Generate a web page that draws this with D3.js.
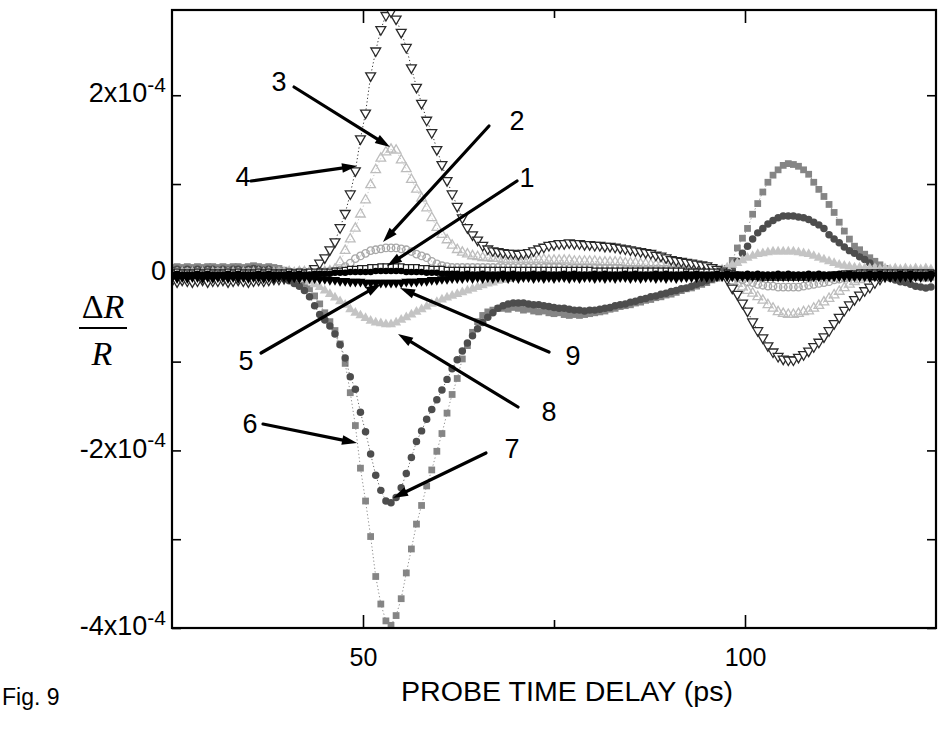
<!DOCTYPE html>
<html>
<head>
<meta charset="utf-8">
<script src="https://cdn.jsdelivr.net/npm/d3@7"></script>
<style>
  body { margin: 0; background: #fff; }
  svg { display: block; }
  .sans { font-family: "Liberation Sans", Arial, sans-serif; }
  .serif { font-family: "Liberation Serif", "Times New Roman", serif; }
</style>
</head>
<body>
<svg id="chart" width="943" height="732"></svg>
<script>
// Probe delay grid (ps): one sample every 2/3 ps from 25 ps
const delay = d3.range(150).map(i => 25 + i * 2 / 3);

// dR/R traces, in units of 1e-4, one value per delay sample
const s1 = [
  0.00,0.01,0.00, 0.00,0.00,0.01, 0.00,0.01,0.00, 0.00,0.00,0.01, 0.00,0.01,0.00,
  0.00,0.00,0.01, 0.00,0.01,0.00, 0.00,0.00,0.01, 0.00,0.01,0.00, 0.01,0.01,0.01,
  0.01,0.01,0.02, 0.02,0.03,0.04, 0.04,0.05,0.05, 0.06,0.06,0.07, 0.07,0.07,0.07,
  0.07,0.06,0.06, 0.06,0.05,0.05, 0.04,0.04,0.04, 0.03,0.03,0.03, 0.03,0.03,0.03,
  0.03,0.03,0.03, 0.03,0.03,0.03, 0.03,0.03,0.03, 0.03,0.03,0.03, 0.03,0.03,0.03,
  0.03,0.03,0.03, 0.03,0.03,0.03, 0.03,0.03,0.02, 0.02,0.02,0.02, 0.02,0.02,0.02,
  0.02,0.02,0.02, 0.02,0.02,0.02, 0.02,0.02,0.02, 0.02,0.02,0.01, 0.01,0.01,0.01,
  0.01,0.01,0.01, 0.00,0.00,-0.01, -0.02,-0.03,-0.03, -0.04,-0.04,-0.05, -0.05,-0.05,-0.05,
  -0.05,-0.05,-0.05, -0.05,-0.05,-0.05, -0.04,-0.04,-0.03, -0.03,-0.02,-0.02, -0.01,-0.01,-0.01,
  0.00,0.00,0.00, 0.00,0.00,0.00, 0.00,0.00,0.00, 0.00,0.00,0.00, 0.00,0.00,0.00
];
const s2 = [
  0.00,0.01,0.00, 0.01,0.00,0.01, 0.00,0.01,0.00, 0.01,0.00,0.01, 0.00,0.01,0.00,
  0.01,0.00,0.01, 0.00,0.01,0.00, 0.01,0.00,0.01, 0.00,0.01,0.01, 0.00,0.01,0.01,
  0.01,0.02,0.02, 0.03,0.07,0.11, 0.16,0.19,0.22, 0.25,0.26,0.27, 0.28,0.28,0.28,
  0.27,0.26,0.24, 0.21,0.19,0.17, 0.13,0.10,0.08, 0.07,0.06,0.06, 0.06,0.06,0.06,
  0.06,0.06,0.06, 0.06,0.06,0.06, 0.06,0.06,0.06, 0.06,0.06,0.06, 0.06,0.06,0.06,
  0.06,0.06,0.05, 0.05,0.05,0.05, 0.05,0.05,0.05, 0.05,0.05,0.05, 0.05,0.05,0.04,
  0.04,0.04,0.04, 0.04,0.04,0.04, 0.04,0.04,0.03, 0.03,0.03,0.03, 0.03,0.03,0.03,
  0.03,0.03,0.02, 0.01,-0.02,-0.04, -0.06,-0.08,-0.10, -0.11,-0.13,-0.14, -0.15,-0.15,-0.16,
  -0.16,-0.16,-0.16, -0.16,-0.15,-0.14, -0.13,-0.12,-0.11, -0.10,-0.08,-0.07, -0.06,-0.05,-0.04,
  -0.03,-0.02,-0.01, -0.01,0.00,0.00, 0.00,0.00,0.00, 0.00,0.00,0.00, 0.00,0.00,0.00
];
const s3 = [
  0.00,-0.01,0.00, -0.01,0.00,-0.01, 0.00,-0.01,0.00, -0.01,0.00,-0.01, 0.00,-0.01,0.00,
  -0.01,0.00,0.00, -0.01,0.00,0.00, 0.00,0.00,0.01, 0.00,0.01,0.01, 0.01,0.01,0.02,
  0.01,0.02,0.04, 0.12,0.25,0.38, 0.50,0.66,0.82, 0.99,1.16,1.29, 1.36,1.39,1.38,
  1.27,1.17,1.05, 0.94,0.84,0.73, 0.62,0.51,0.43, 0.37,0.31,0.26, 0.23,0.21,0.19,
  0.18,0.17,0.17, 0.16,0.16,0.15, 0.15,0.15,0.15, 0.15,0.15,0.15, 0.15,0.15,0.14,
  0.14,0.14,0.14, 0.14,0.13,0.13, 0.13,0.13,0.13, 0.12,0.12,0.12, 0.12,0.12,0.11,
  0.11,0.11,0.10, 0.10,0.09,0.09, 0.09,0.08,0.08, 0.07,0.07,0.06, 0.06,0.05,0.05,
  0.04,0.03,0.02, 0.00,-0.04,-0.09, -0.12,-0.16,-0.20, -0.23,-0.27,-0.31, -0.36,-0.40,-0.44,
  -0.46,-0.47,-0.47, -0.46,-0.44,-0.43, -0.40,-0.37,-0.33, -0.29,-0.25,-0.21, -0.17,-0.13,-0.10,
  -0.08,-0.06,-0.05, -0.03,-0.01,0.00, 0.00,0.00,0.01, 0.00,0.00,0.01, 0.00,0.01,0.00
];
const s4 = [
  -0.09,-0.10,-0.08, -0.09,-0.10,-0.09, -0.08,-0.10,-0.09, -0.09,-0.08,-0.10, -0.09,-0.08,-0.09,
  -0.10,-0.09,-0.08, -0.09,-0.08,-0.07, -0.07,-0.06,-0.05, -0.04,-0.03,-0.01, 0.00,0.05,0.11,
  0.17,0.26,0.35, 0.51,0.67,0.89, 1.15,1.51,1.80, 2.22,2.50,2.74, 2.90,2.94,2.86,
  2.71,2.54,2.31, 2.09,1.91,1.72, 1.58,1.39,1.22, 1.04,0.89,0.75, 0.62,0.51,0.43,
  0.37,0.31,0.27, 0.25,0.24,0.23, 0.22,0.22,0.21, 0.22,0.23,0.25, 0.27,0.29,0.31,
  0.32,0.33,0.33, 0.34,0.33,0.33, 0.32,0.32,0.31, 0.31,0.30,0.30, 0.29,0.28,0.27,
  0.26,0.25,0.24, 0.23,0.22,0.20, 0.19,0.17,0.15, 0.14,0.13,0.12, 0.11,0.10,0.09,
  0.08,0.06,0.04, 0.02,-0.07,-0.17, -0.24,-0.34,-0.43, -0.55,-0.65,-0.73, -0.82,-0.89,-0.94,
  -0.97,-0.98,-0.98, -0.95,-0.92,-0.88, -0.83,-0.78,-0.72, -0.65,-0.57,-0.50, -0.42,-0.36,-0.30,
  -0.25,-0.20,-0.16, -0.11,-0.07,-0.04, -0.02,-0.02,-0.01, -0.02,-0.01,-0.02, -0.01,-0.02,-0.01
];
const s5 = [
  -0.02,-0.01,-0.02, -0.02,-0.02,-0.01, -0.02,-0.01,-0.02, -0.02,-0.02,-0.01, -0.02,-0.01,-0.02,
  -0.02,-0.02,-0.01, -0.02,-0.01,-0.02, -0.02,-0.02,-0.01, -0.02,-0.01,-0.02, -0.02,-0.01,-0.01,
  -0.01,-0.01,0.00, 0.00,0.00,0.01, 0.01,0.01,0.01, 0.01,0.02,0.02, 0.02,0.02,0.02,
  0.02,0.01,0.01, 0.01,0.01,0.00, 0.00,0.00,-0.01, -0.01,-0.01,-0.01, -0.02,-0.01,-0.02,
  -0.02,-0.01,-0.02, -0.02,-0.02,-0.01, -0.02,-0.01,-0.02, -0.02,-0.02,-0.01, -0.02,-0.01,-0.02,
  -0.02,-0.02,-0.01, -0.02,-0.01,-0.02, -0.02,-0.02,-0.01, -0.02,-0.01,-0.02, -0.02,-0.02,-0.01,
  -0.02,-0.01,-0.02, -0.02,-0.02,-0.01, -0.02,-0.01,-0.02, -0.02,-0.02,-0.01, -0.02,-0.01,-0.02,
  -0.02,-0.02,-0.01, -0.02,-0.01,-0.02, -0.02,-0.02,-0.01, -0.02,-0.01,-0.02, -0.02,-0.02,-0.01,
  -0.02,-0.01,-0.02, -0.02,-0.02,-0.01, -0.02,-0.01,-0.02, -0.02,-0.02,-0.01, -0.02,-0.01,-0.02,
  -0.02,-0.02,-0.01, -0.02,-0.01,-0.02, -0.02,-0.02,-0.01, -0.02,-0.01,-0.02, -0.02,-0.02,-0.01
];
const s6 = [
  0.06,0.07,0.06, 0.07,0.06,0.07, 0.06,0.07,0.07, 0.06,0.07,0.06, 0.07,0.07,0.06,
  0.07,0.08,0.07, 0.06,0.07,0.06, 0.05,0.03,0.01, -0.03,-0.07,-0.12, -0.18,-0.26,-0.35,
  -0.45,-0.55,-0.65, -0.80,-1.02,-1.35, -1.72,-2.20,-2.57, -2.97,-3.42,-3.73, -3.92,-3.97,-3.86,
  -3.67,-3.38,-3.11, -2.83,-2.62,-2.40, -2.22,-2.01,-1.81, -1.58,-1.37,-1.19, -0.97,-0.82,-0.67,
  -0.55,-0.48,-0.44, -0.42,-0.40,-0.40, -0.41,-0.39,-0.40, -0.42,-0.41,-0.43, -0.44,-0.43,-0.45,
  -0.46,-0.45,-0.47, -0.48,-0.47,-0.48, -0.47,-0.46,-0.45, -0.44,-0.43,-0.41, -0.40,-0.38,-0.37,
  -0.36,-0.34,-0.33, -0.31,-0.30,-0.28, -0.27,-0.25,-0.24, -0.22,-0.20,-0.18, -0.17,-0.15,-0.13,
  -0.11,-0.08,-0.06, -0.02,0.05,0.14, 0.28,0.39,0.50, 0.66,0.78,0.91, 1.02,1.10,1.16,
  1.21,1.23,1.22, 1.20,1.16,1.11, 1.02,0.94,0.86, 0.77,0.68,0.57, 0.47,0.38,0.30,
  0.26,0.21,0.17, 0.13,0.09,0.05, 0.02,0.00,-0.02, -0.03,-0.04,-0.05, -0.05,-0.06,-0.05
];
const s7 = [
  0.03,0.04,0.03, 0.04,0.03,0.04, 0.03,0.04,0.04, 0.03,0.04,0.03, 0.04,0.04,0.03,
  0.04,0.05,0.04, 0.03,0.04,0.02, 0.00,-0.05,-0.09, -0.12,-0.15,-0.20, -0.27,-0.37,-0.47,
  -0.53,-0.60,-0.69, -0.81,-0.96,-1.17, -1.31,-1.57,-1.79, -2.04,-2.28,-2.45, -2.57,-2.59,-2.53,
  -2.42,-2.26,-2.08, -1.90,-1.78,-1.65, -1.54,-1.43,-1.32, -1.20,-1.08,-0.98, -0.88,-0.79,-0.71,
  -0.63,-0.56,-0.50, -0.45,-0.40,-0.37, -0.35,-0.34,-0.34, -0.34,-0.35,-0.36, -0.36,-0.37,-0.38,
  -0.39,-0.40,-0.40, -0.41,-0.42,-0.42, -0.43,-0.42,-0.42, -0.41,-0.40,-0.39, -0.37,-0.36,-0.35,
  -0.33,-0.32,-0.30, -0.29,-0.27,-0.26, -0.24,-0.23,-0.21, -0.20,-0.18,-0.17, -0.15,-0.13,-0.11,
  -0.09,-0.07,-0.05, -0.03,0.00,0.04, 0.13,0.22,0.30, 0.38,0.45,0.50, 0.55,0.59,0.62,
  0.64,0.64,0.64, 0.63,0.62,0.60, 0.57,0.54,0.50, 0.43,0.38,0.34, 0.29,0.25,0.22,
  0.18,0.15,0.11, 0.04,0.01,-0.02, -0.06,-0.08,-0.10, -0.11,-0.13,-0.15, -0.16,-0.17,-0.16
];
const s8 = [
  -0.01,0.00,-0.01, 0.00,-0.01,0.00, -0.01,0.00,-0.01, 0.00,-0.01,0.00, -0.01,0.00,-0.01,
  0.00,-0.01,0.00, -0.01,0.00,-0.01, -0.01,-0.02,-0.02, -0.03,-0.05,-0.07, -0.10,-0.13,-0.16,
  -0.20,-0.24,-0.28, -0.32,-0.36,-0.41, -0.45,-0.48,-0.51, -0.54,-0.56,-0.57, -0.58,-0.58,-0.56,
  -0.53,-0.50,-0.47, -0.44,-0.41,-0.38, -0.35,-0.33,-0.30, -0.28,-0.26,-0.24, -0.22,-0.20,-0.18,
  -0.16,-0.14,-0.12, -0.11,-0.09,-0.08, -0.07,-0.06,-0.05, -0.04,-0.03,-0.03, -0.02,-0.02,-0.01,
  -0.01,-0.01,0.00, 0.00,-0.01,0.00, 0.00,0.00,-0.01, 0.00,0.00,0.00, -0.01,0.00,0.00,
  0.00,0.00,0.01, 0.00,0.00,0.00, 0.01,0.00,0.00, 0.00,0.01,0.00, 0.01,0.00,0.01,
  0.01,0.02,0.03, 0.04,0.06,0.09, 0.11,0.14,0.17, 0.19,0.21,0.22, 0.23,0.24,0.24,
  0.24,0.24,0.24, 0.23,0.22,0.21, 0.19,0.17,0.15, 0.13,0.11,0.09, 0.08,0.07,0.06,
  0.06,0.05,0.05, 0.05,0.04,0.05, 0.04,0.05,0.04, 0.05,0.04,0.05, 0.04,0.05,0.04
];
const s9 = [
  -0.05,-0.06,-0.05, -0.06,-0.05,-0.05, -0.06,-0.05,-0.06, -0.05,-0.05,-0.06, -0.05,-0.06,-0.05,
  -0.06,-0.05,-0.05, -0.06,-0.05,-0.06, -0.05,-0.05,-0.06, -0.05,-0.06,-0.05, -0.06,-0.06,-0.07,
  -0.07,-0.08,-0.08, -0.09,-0.09,-0.10, -0.10,-0.10,-0.11, -0.11,-0.11,-0.11, -0.11,-0.11,-0.11,
  -0.11,-0.10,-0.10, -0.10,-0.09,-0.09, -0.08,-0.08,-0.07, -0.07,-0.06,-0.06, -0.06,-0.05,-0.06,
  -0.05,-0.06,-0.05, -0.06,-0.05,-0.05, -0.06,-0.05,-0.06, -0.05,-0.05,-0.06, -0.05,-0.06,-0.05,
  -0.06,-0.05,-0.05, -0.06,-0.05,-0.06, -0.05,-0.05,-0.06, -0.05,-0.06,-0.05, -0.06,-0.05,-0.05,
  -0.06,-0.05,-0.06, -0.05,-0.05,-0.06, -0.05,-0.06,-0.05, -0.06,-0.05,-0.05, -0.05,-0.05,-0.04,
  -0.05,-0.04,-0.04, -0.04,-0.04,-0.04, -0.04,-0.04,-0.04, -0.04,-0.04,-0.04, -0.04,-0.04,-0.04,
  -0.04,-0.04,-0.04, -0.04,-0.04,-0.04, -0.04,-0.04,-0.04, -0.04,-0.04,-0.04, -0.04,-0.04,-0.04,
  -0.04,-0.04,-0.05, -0.04,-0.05,-0.04, -0.05,-0.04,-0.05, -0.04,-0.05,-0.04, -0.05,-0.04,-0.05
];

const xMajorTicks = [50, 100];
const xMinorTicks = [75];
const yMajorTicks = [-4, -2, 0, 2];
const yMinorTicks = [-3, -1, 1];
const exponentLabel = "-4";

const xTitle = "PROBE TIME DELAY (ps)";
const figLabel = "Fig. 9";

// drawing order: back to front
const traces = [
  { name: "6", values: s6, shape: "square",  size: 46, fill: "#858585", stroke: "none",    line: "#8c8c8c" },
  { name: "7", values: s7, shape: "circle",  size: 44, fill: "#4d4d4d", stroke: "none",    line: "#6a6a6a" },
  { name: "8", values: s8, shape: "up",      size: 44, fill: "#c4c4c4", stroke: "none",    line: "#c8c8c8" },
  { name: "3", values: s3, shape: "up",      size: 40, fill: "none",    stroke: "#bdbdbd", line: "#c4c4c4" },
  { name: "2", values: s2, shape: "circle",  size: 44, fill: "none",    stroke: "#a8a8a8", line: "#b0b0b0" },
  { name: "4", values: s4, shape: "down",    size: 42, fill: "#ffffff", stroke: "#2a2a2a", line: "#333333" },
  { name: "1", values: s1, shape: "square",  size: 32, fill: "#ffffff", stroke: "#222222", line: "#333333" },
  { name: "9", values: s9, shape: "down",    size: 44, fill: "#000000", stroke: "none",    line: "#000000" },
  { name: "5", values: s5, shape: "circle",  size: 34, fill: "#000000", stroke: "none",    line: "#000000" }
];

// numbered call-outs: label position, arrow tail and arrow tip
const callouts = [
  { label: "3", at: [279, 82],  from: [294, 87],  to: [390, 147] },
  { label: "4", at: [243, 177], from: [251, 181], to: [357, 166] },
  { label: "2", at: [517, 121], from: [489, 126], to: [383, 242] },
  { label: "1", at: [527, 178], from: [517, 181], to: [387, 266] },
  { label: "5", at: [246, 361], from: [261, 353], to: [381, 284] },
  { label: "9", at: [573, 356], from: [549, 352], to: [400, 288] },
  { label: "8", at: [549, 412], from: [518, 407], to: [398, 334] },
  { label: "6", at: [250, 424], from: [263, 424], to: [357, 443] },
  { label: "7", at: [512, 449], from: [486, 453], to: [393, 498] }
];

const plot = { left: 172, right: 936, top: 10, bottom: 628 };

const svg = d3.select("#chart");
const x = d3.scaleLinear().domain([25, 125]).range([plot.left, plot.right]);
const y = d3.scaleLinear().domain([-4, 2.96]).range([plot.bottom, plot.top]);

svg.append("defs").append("clipPath").attr("id", "plotClip")
  .append("rect")
  .attr("x", plot.left).attr("y", plot.top)
  .attr("width", plot.right - plot.left).attr("height", plot.bottom - plot.top);

const area = svg.append("g").attr("clip-path", "url(#plotClip)");

const symbolFor = {
  square: d3.symbolSquare,
  circle: d3.symbolCircle,
  up: d3.symbolTriangle,
  down: d3.symbolTriangle
};

traces.forEach(tr => {
  const pts = delay.map((t, i) => [t, tr.values[i]]);
  const g = area.append("g").attr("class", "trace trace-" + tr.name);
  g.append("path")
    .datum(pts)
    .attr("fill", "none")
    .attr("stroke", tr.line)
    .attr("stroke-width", 1)
    .attr("stroke-dasharray", "1.2,2.4")
    .attr("d", d3.line().x(d => x(d[0])).y(d => y(d[1])));
  const sym = d3.symbol().type(symbolFor[tr.shape]).size(tr.size);
  g.selectAll("path.mk")
    .data(pts)
    .join("path")
    .attr("class", "mk")
    .attr("d", sym)
    .attr("transform", d => `translate(${x(d[0])},${y(d[1])})` + (tr.shape === "down" ? " rotate(180)" : ""))
    .attr("fill", tr.fill)
    .attr("stroke", tr.stroke)
    .attr("stroke-width", tr.stroke === "none" ? 0 : 1.3);
});

// axes: ticks point into the plot on all four sides
function styleAxis(g) {
  g.select(".domain").remove();
  g.selectAll(".tick line").attr("stroke", "#000").attr("stroke-width", 1.6);
  g.selectAll(".tick text").attr("class", "sans").attr("fill", "#000");
}
function sciText(g) {
  g.selectAll(".tick text").each(function (d) {
    const t = d3.select(this).text(null);
    if (d === 0) { t.append("tspan").text("0"); return; }
    t.append("tspan").text(`${d}x10`);
    t.append("tspan").attr("dy", "-0.5em").attr("font-size", "21px").text(exponentLabel);
  });
}

svg.append("g").attr("transform", `translate(0,${plot.bottom})`)
  .call(d3.axisBottom(x).tickValues(xMajorTicks).tickSize(-13).tickPadding(20).tickFormat(d3.format("d")))
  .call(styleAxis)
  .call(g => g.selectAll(".tick text").attr("font-size", 25));
svg.append("g").attr("transform", `translate(0,${plot.bottom})`)
  .call(d3.axisBottom(x).tickValues(xMinorTicks).tickSize(-8).tickFormat(""))
  .call(styleAxis);
svg.append("g").attr("transform", `translate(0,${plot.top})`)
  .call(d3.axisTop(x).tickValues(xMajorTicks).tickSize(-13).tickFormat(""))
  .call(styleAxis);
svg.append("g").attr("transform", `translate(0,${plot.top})`)
  .call(d3.axisTop(x).tickValues(xMinorTicks).tickSize(-8).tickFormat(""))
  .call(styleAxis);

svg.append("g").attr("transform", `translate(${plot.left},0)`)
  .call(d3.axisLeft(y).tickValues(yMajorTicks).tickSize(-9).tickPadding(6))
  .call(styleAxis)
  .call(g => g.selectAll(".tick text").attr("font-size", 27).attr("dy", "0.25em"))
  .call(sciText);
svg.append("g").attr("transform", `translate(${plot.left},0)`)
  .call(d3.axisLeft(y).tickValues(yMinorTicks).tickSize(-9).tickFormat(""))
  .call(styleAxis);
svg.append("g").attr("transform", `translate(${plot.right},0)`)
  .call(d3.axisRight(y).tickValues(yMajorTicks.concat(yMinorTicks)).tickSize(-9).tickFormat(""))
  .call(styleAxis);

// frame
svg.append("rect")
  .attr("x", plot.left).attr("y", plot.top)
  .attr("width", plot.right - plot.left).attr("height", plot.bottom - plot.top)
  .attr("fill", "none").attr("stroke", "#000").attr("stroke-width", 2.2);

// call-out arrows and numbers
const notes = svg.append("g");
callouts.forEach(c => {
  const [x0, y0] = c.from, [x1, y1] = c.to;
  const L = Math.hypot(x1 - x0, y1 - y0), ux = (x1 - x0) / L, uy = (y1 - y0) / L;
  const hl = 15, hw = 4.8;
  const bx = x1 - ux * hl, by = y1 - uy * hl;
  notes.append("line")
    .attr("x1", x0).attr("y1", y0).attr("x2", bx + ux * 3).attr("y2", by + uy * 3)
    .attr("stroke", "#000").attr("stroke-width", 3.2).attr("stroke-linecap", "round");
  notes.append("path")
    .attr("d", `M${x1},${y1}L${bx - uy * hw},${by + ux * hw}L${bx + uy * hw},${by - ux * hw}Z`)
    .attr("fill", "#000");
  notes.append("text")
    .attr("class", "sans")
    .attr("x", c.at[0]).attr("y", c.at[1])
    .attr("text-anchor", "middle").attr("dominant-baseline", "central")
    .attr("font-size", 27).attr("fill", "#000")
    .text(c.label);
});

// y-axis quantity: ΔR over R
const frac = svg.append("g").attr("font-size", 34);
const num = frac.append("text").attr("class", "serif").attr("x", 103).attr("y", 318).attr("text-anchor", "middle");
num.append("tspan").text("Δ");
num.append("tspan").attr("font-style", "italic").text("R");
frac.append("line").attr("x1", 79).attr("x2", 127).attr("y1", 328).attr("y2", 328)
  .attr("stroke", "#000").attr("stroke-width", 1.8);
frac.append("text").attr("class", "serif").attr("x", 102).attr("y", 365).attr("text-anchor", "middle")
  .attr("font-style", "italic").text("R");

// x-axis title and figure tag
svg.append("text").attr("class", "sans").attr("x", 567).attr("y", 701).attr("text-anchor", "middle")
  .attr("font-size", 27).attr("textLength", 332).attr("lengthAdjust", "spacingAndGlyphs")
  .text(xTitle);
svg.append("text").attr("class", "sans").attr("x", 2).attr("y", 705).attr("font-size", 23).text(figLabel);
</script>
</body>
</html>
